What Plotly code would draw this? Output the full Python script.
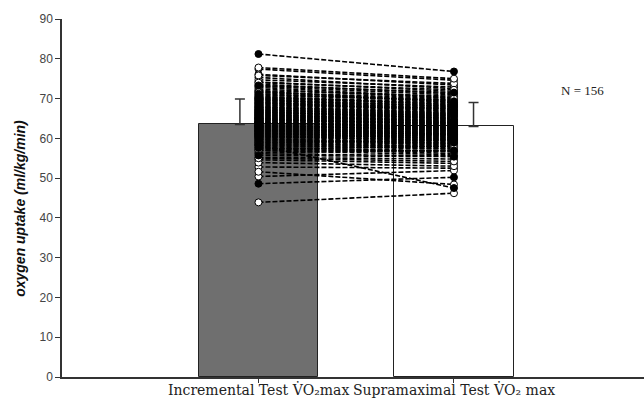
import plotly.graph_objects as go

categories = ["Incremental Test V̇O₂max", "Supramaximal Test V̇O₂ max"]
bar_means = [63.5, 63.0]
bar_sd = [6.4, 6.0]

incremental = [
    72.4, 65.1, 58.9, 69.8, 61.3, 66.7, 74.2, 63.5, 57.2, 67.9, 62.8, 70.6,
    60.4, 64.9, 68.3, 55.7, 71.5, 63.0, 66.2, 59.6, 73.1, 62.1, 65.8, 69.2,
    56.4, 64.2, 67.4, 61.7, 75.3, 60.9, 63.8, 68.8, 58.1, 66.0, 62.5, 70.1,
    54.6, 65.5, 77.4, 61.0, 67.1, 63.3, 59.0, 71.9, 64.6, 57.8, 69.5, 62.9,
    81.2, 66.5, 60.2, 64.0, 68.0, 52.8, 63.7, 72.8, 61.5, 65.3, 58.4, 67.7,
    62.3, 70.3, 56.9, 64.4, 76.1, 60.7, 66.9, 63.1, 59.3, 69.0, 61.9, 65.7,
    50.4, 68.5, 62.7, 73.6, 57.5, 64.7, 66.3, 60.0, 71.2, 63.9, 55.2, 67.2,
    61.2, 65.0, 58.7, 69.9, 62.0, 74.7, 64.3, 59.8, 66.8, 48.6, 63.4, 70.8,
    60.5, 67.6, 62.6, 57.0, 65.9, 72.0, 61.6, 64.1, 68.6, 53.9, 63.6, 66.1,
    59.5, 71.0, 62.4, 65.6, 58.2, 69.3, 61.1, 75.8, 64.5, 60.3, 67.3, 63.2,
    56.1, 68.2, 62.2, 65.2, 73.3, 59.9, 66.4, 61.4, 70.4, 58.6, 64.8, 43.9,
    67.8, 62.0, 69.6, 60.8, 65.4, 57.6, 63.9, 71.6, 61.8, 66.6, 55.0, 64.0,
    77.8, 62.9, 68.9, 59.1, 65.0, 51.6, 63.1, 70.0, 60.6, 67.0, 58.3, 74.0,
]

supramaximal = [
    70.1, 63.8, 59.6, 67.2, 60.0, 64.9, 71.8, 62.0, 58.1, 66.3, 61.9, 68.4,
    59.2, 63.1, 67.5, 55.4, 69.7, 62.6, 64.0, 58.3, 70.9, 61.5, 64.6, 66.8,
    57.0, 62.9, 65.6, 60.8, 72.5, 59.9, 63.4, 67.1, 57.3, 65.2, 60.7, 68.9,
    53.7, 64.1, 74.6, 61.3, 66.0, 61.8, 58.0, 69.0, 63.7, 56.6, 68.2, 61.2,
    76.8, 65.0, 60.9, 62.4, 66.4, 52.5, 62.8, 70.3, 59.7, 64.5, 57.6, 65.9,
    61.6, 68.6, 55.9, 63.9, 73.4, 59.4, 65.3, 62.2, 58.6, 67.7, 60.3, 64.8,
    51.9, 66.9, 61.4, 71.2, 56.2, 63.6, 65.8, 59.1, 69.3, 62.5, 54.8, 65.5,
    60.5, 63.9, 57.9, 68.0, 61.0, 72.9, 63.0, 58.8, 65.1, 50.2, 62.1, 69.5,
    59.5, 66.2, 61.7, 56.8, 64.4, 70.6, 60.6, 62.7, 67.4, 53.0, 62.4, 64.7,
    58.9, 69.6, 61.1, 64.2, 57.4, 67.9, 60.1, 73.8, 63.3, 59.6, 66.1, 62.0,
    55.6, 66.7, 61.2, 64.0, 71.5, 58.7, 65.0, 60.4, 69.1, 57.9, 63.5, 46.2,
    66.5, 61.0, 68.1, 60.2, 64.3, 56.9, 62.6, 70.0, 60.9, 65.4, 54.2, 62.9,
    75.0, 61.7, 67.6, 58.4, 63.6, 48.4, 62.3, 68.5, 59.8, 65.7, 47.5, 72.2,
]

group = [
    0, 1, 0, 0, 1, 0, 0, 1, 0, 0, 1, 0,
    1, 0, 0, 1, 0, 0, 1, 0, 0, 1, 0, 0,
    0, 1, 0, 0, 0, 1, 0, 1, 0, 0, 1, 0,
    0, 0, 0, 1, 0, 1, 0, 0, 1, 0, 0, 1,
    1, 0, 1, 0, 0, 0, 1, 0, 0, 1, 0, 0,
    0, 1, 0, 0, 0, 1, 0, 1, 0, 0, 1, 0,
    0, 0, 1, 0, 0, 1, 0, 0, 1, 0, 0, 1,
    1, 0, 0, 1, 0, 0, 1, 0, 0, 1, 0, 0,
    0, 1, 0, 0, 1, 0, 0, 1, 0, 0, 1, 0,
    1, 0, 0, 1, 0, 0, 1, 0, 0, 1, 0, 0,
    0, 1, 0, 0, 1, 0, 0, 1, 0, 0, 1, 0,
    0, 0, 1, 0, 0, 1, 0, 0, 1, 0, 0, 1,
    0, 1, 0, 0, 1, 0, 0, 1, 0, 0, 1, 0,
]

n_label = "N = 156"
y_title = "oxygen uptake (ml/kg/min)"

xpos = [0, 1]

fig = go.Figure()

fig.add_trace(go.Bar(
    x=xpos, y=bar_means, width=0.61,
    marker=dict(color=["#6f6f6f", "#ffffff"], line=dict(color="#222222", width=1)),
    showlegend=False, hoverinfo="skip",
))

fig.add_trace(go.Scatter(
    x=[-0.095, 1.10], y=bar_means, mode="markers",
    marker=dict(size=1, color="rgba(0,0,0,0)"),
    error_y=dict(type="data", array=bar_sd, arrayminus=[0, 0], color="#333333",
                 thickness=1.5, width=5),
    showlegend=False, hoverinfo="skip",
))

lx, ly = [], []
for a, b in zip(incremental, supramaximal):
    lx += [0, 1, None]
    ly += [a, b, None]
fig.add_trace(go.Scatter(
    x=lx, y=ly, mode="lines",
    line=dict(color="black", width=1.6, dash="5px,2px"),
    showlegend=False, hoverinfo="skip",
))

for g, fill in [(0, "white"), (1, "black")]:
    xs, ys = [], []
    for a, b, gg in zip(incremental, supramaximal, group):
        if gg == g:
            xs += [0, 1]
            ys += [a, b]
    fig.add_trace(go.Scatter(
        x=xs, y=ys, mode="markers",
        marker=dict(size=7, color=fill, line=dict(color="black", width=1)),
        showlegend=False, hoverinfo="skip",
    ))

fig.add_annotation(x=1.655, y=72.1, text=n_label, showarrow=False,
                   font=dict(family="Liberation Serif", size=13, color="#222222"))

fig.add_annotation(xref="paper", yref="paper", x=-0.072, xanchor="center",
                   y=0.47, yanchor="middle",
                   text=y_title, textangle=-90, showarrow=False,
                   font=dict(family="Liberation Sans", size=14, color="#111111",
                             weight="bold", style="italic"))

for xv, lab in zip(xpos, categories):
    fig.add_annotation(x=xv, xref="x", yref="paper", y=-0.034, yanchor="middle",
                       text=lab, showarrow=False,
                       font=dict(family="DejaVu Serif", size=14, color="#222222"))

fig.update_layout(
    width=644, height=400,
    margin=dict(l=62, r=0, t=19, b=23),
    paper_bgcolor="white", plot_bgcolor="white",
    bargap=0,
)
fig.update_xaxes(
    range=[-1.005, 1.972], tickvals=xpos, ticktext=["", ""],
    showline=True, linecolor="#333333", linewidth=1.5,
    ticks="outside", ticklen=4, tickcolor="#333333",
    showgrid=False, zeroline=False, automargin=False,
)
fig.update_yaxes(
    range=[0, 90], tickvals=list(range(0, 91, 10)),
    showline=True, linecolor="#333333", linewidth=1.5,
    ticks="outside", ticklen=5, tickcolor="#333333",
    showgrid=False, zeroline=False, automargin=False,
    tickfont=dict(family="Liberation Sans", size=12, color="#444444"),
)

fig.write_html("out.html", config={"displayModeBar": False},
               post_script="document.body.style.margin='0px';document.body.style.overflow='hidden';")
